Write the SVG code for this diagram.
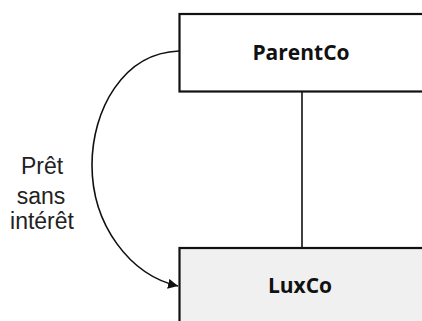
<svg xmlns="http://www.w3.org/2000/svg" width="422" height="321" viewBox="0 0 422 321">
<style>
.box{stroke:#111;stroke-width:2.2}
.name{font-family:"Open Sans","Noto Sans","Liberation Sans",sans-serif;font-weight:bold;font-size:21px;fill:#111;text-anchor:middle}
.lbl{font-family:"Liberation Sans",Arial,sans-serif;font-size:23px;fill:#222;text-anchor:middle}
.conn{fill:none;stroke:#111;stroke-width:1.6}
</style>
<defs>
<marker id="ah" viewBox="0 0 10 10" refX="10" refY="5" markerWidth="10" markerHeight="10" markerUnits="userSpaceOnUse" orient="auto">
<path d="M0,0 L10,5 L0,10 Z" fill="#111"/>
</marker>
</defs>
<rect width="422" height="321" fill="#fff"/>
<g id="connectors">
<line class="conn" x1="302" y1="92" x2="302" y2="247"/>
<path class="conn" d="M179,51 C123,53 92,110 92,165 C92,225 130,275 178,286" marker-end="url(#ah)"/>
<g id="label">
<text class="lbl" x="42" y="174">Prêt</text>
<text class="lbl" x="41" y="204">sans</text>
<text class="lbl" x="42" y="229">intérêt</text>
</g>
</g>
<g id="parentco">
<rect class="box" x="179.5" y="14" width="250" height="77.5" fill="#fff"/>
<text class="name" x="301" y="59.5">ParentCo</text>
</g>
<g id="luxco">
<rect class="box" x="179.5" y="248" width="250" height="80" fill="#f0f0f0"/>
<text class="name" x="300" y="293">LuxCo</text>
</g>
</svg>
